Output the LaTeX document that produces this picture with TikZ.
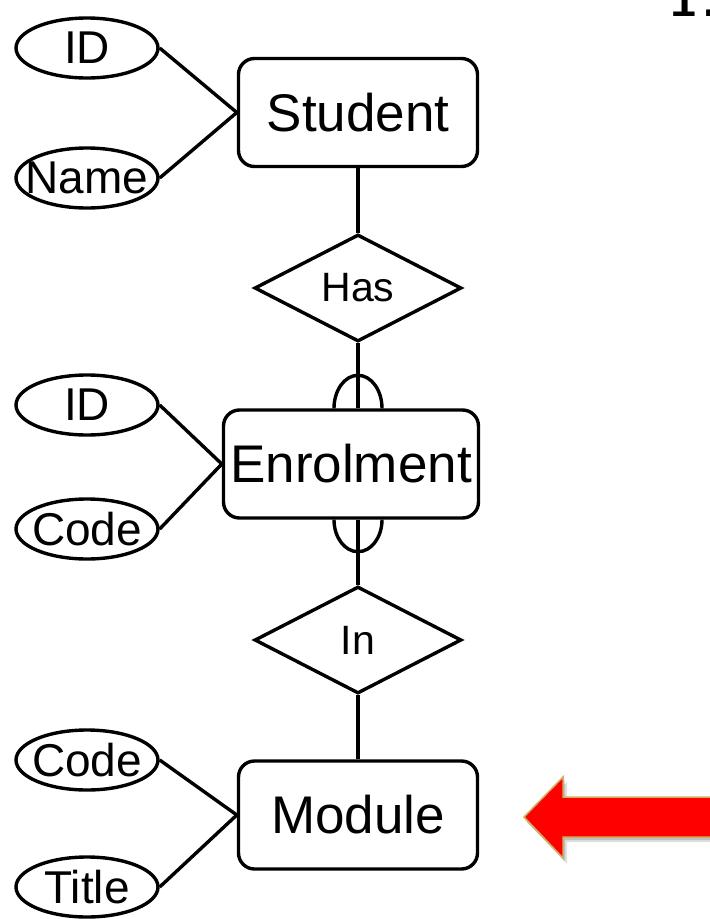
\documentclass[tikz,border=0pt]{standalone}
\usepackage{fontspec}
\usetikzlibrary{shapes.geometric,calc}
\newfontfamily\arialf{Liberation Sans}
\newfontfamily\monof{Liberation Mono}
\definecolor{arrowgold}{HTML}{CDB060}
\begin{document}
\begin{tikzpicture}[x=1pt,y=-1pt,
  lw/.style={line width=3.4pt},
  ent/.style={draw, lw, rounded corners=16pt, minimum width=239pt, minimum height=108pt, inner sep=0pt, font=\arialf\fontsize{53}{60}\selectfont},
  rel/.style={draw, lw, diamond, minimum width=207pt, minimum height=107pt, inner sep=0pt, font=\arialf\fontsize{41}{48}\selectfont},
  attrtext/.style={font=\arialf\fontsize{46}{52}\selectfont, inner sep=0pt},
  attr/.style={draw, lw, ellipse, minimum width=142pt, minimum height=60pt, inner sep=0pt, label={[attrtext]center:#1}},
  conn/.style={lw}]
\useasboundingbox (0,0) rectangle (710,919);
% entities and relationships
\node[ent] (stu) at (358,112.5) {Student};
\node[rel] (has) at (358,288) {Has};
\node[ent, minimum width=255pt] (enr) at (351,464) {Enrolment};
\node[rel] (in) at (358,640) {In};
\node[ent] (mod) at (358,815) {Module};
% attributes
\node[attr=ID] (a1) at (87,48) {};
\node[attr=Name] (a2) at (87,178) {};
\node[attr=ID] (a3) at (87,405) {};
\node[attr=Code] (a4) at (87,529) {};
\node[attr=Code] (a5) at (87,760) {};
\node[attr=Title] (a6) at (87,887) {};
% attribute connectors
\draw[conn] (a1.east) -- (stu.west);
\draw[conn] (a2.east) -- (stu.west);
\draw[conn] (a3.east) -- (enr.west);
\draw[conn] (a4.east) -- (enr.west);
\draw[conn] (a5.east) -- (mod.west);
\draw[conn] (a6.east) -- (mod.west);
% relationship connectors
\draw[conn] (stu.south) -- (has.north);
\draw[conn] (has.south) -- (has.south |- enr.north);
\draw[conn] (has.south |- enr.south) -- (in.north);
\draw[conn] (in.south) -- (mod.north);
% optionality arcs
\coordinate (ta) at ($(has.south |- enr.north)+(-24,0)$);
\coordinate (ba) at ($(has.south |- enr.south)+(-24,0)$);
\draw[conn] (ta) arc[start angle=180, end angle=0, x radius=24pt, y radius=33pt];
\draw[conn] (ba) arc[start angle=180, end angle=360, x radius=24pt, y radius=32pt];
% red arrow
\fill[black, opacity=.12] (723,802) -- (567,802) -- (567,782) -- (527,822) -- (567,864) -- (567,842) -- (723,842) -- cycle;
\fill[black, opacity=.15] (721,800) -- (565,800) -- (565,780) -- (525,820) -- (565,861) -- (565,840) -- (721,840) -- cycle;
\draw[fill=red, draw=arrowgold, line width=1.5pt] (720,797) -- (563,797) -- (563,777) -- (524,817) -- (563,858) -- (563,837) -- (720,837) -- cycle;
% number
\node[font=\monof\bfseries\fontsize{44}{50}\selectfont, anchor=base west, inner sep=0pt] (num) at (670,16) {1.};
\end{tikzpicture}
\end{document}
